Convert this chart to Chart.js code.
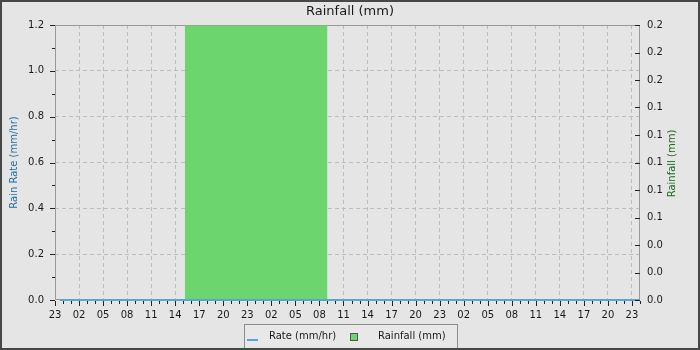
<!DOCTYPE html>
<html><head><meta charset="utf-8">
<script src="https://cdn.jsdelivr.net/npm/chart.js@4/dist/chart.umd.min.js"></script>
<style>html,body{margin:0;padding:0;background:#e5e5e5;}canvas{display:block;}</style>
</head><body>
<canvas id="c" width="700" height="350"></canvas>
<script>
// hours since 23:00 of the first day
const hourLabels = ['23','02','05','08','11','14','17','20','23','02','05','08','11','14','17','20','23','02','05','08','11','14','17','20','23'];
const rateTimes = [0.6, 73];
const rateValues = [0, 0];
const rainTimes = [16.2, 34];
const rainValues = [0.2, 0.2];
const rateTickValues = [0, 0.1, 0.2, 0.3, 0.4, 0.5, 0.6, 0.7, 0.8, 0.9, 1.0, 1.1, 1.2];
const rainTickValues = [0, 0.01, 0.02, 0.03, 0.04, 0.05, 0.06, 0.07, 0.08, 0.09, 0.1, 0.11, 0.12, 0.13, 0.14, 0.15, 0.16, 0.17, 0.18, 0.19, 0.2];

const FONT = 'DejaVu Sans';
const RATE_COLOR = '#55a5d7';
const RAIN_COLOR = '#6dd56d';
const GRID = '#bdbdbd';
const AXIS = '#9a9a9a';
const TEXT = '#1a1a1a';

const isMajorX = v => Math.round(v) % 3 === 0;
const isMajorY = v => Math.round(v * 10) % 2 === 0;
const isMajorY2 = v => Math.round(v * 100) % 2 === 0;

const decor = {
  id: 'decor',
  beforeDraw(chart) {
    const c = chart.ctx;
    c.save();
    c.fillStyle = '#e5e5e5';
    c.fillRect(0, 0, chart.width, chart.height);
    c.restore();
  },
  beforeDatasetsDraw(chart) {
    const c = chart.ctx, a = chart.chartArea;
    c.save();
    c.strokeStyle = AXIS; c.lineWidth = 1;
    c.strokeRect(Math.round(a.left) + 0.5, Math.round(a.top) + 0.5, Math.round(a.right - a.left) - 1, Math.round(a.bottom - a.top) - 1);
    c.restore();
  },
  afterDraw(chart) {
    const c = chart.ctx, a = chart.chartArea;
    const sx = chart.scales.x, sy = chart.scales.y, sy2 = chart.scales.y2;
    c.save();
    // top edge over the fill
    c.strokeStyle = 'rgba(154,154,154,0.6)'; c.lineWidth = 1;
    c.beginPath(); c.moveTo(a.left, Math.round(a.top) + 0.5); c.lineTo(a.right, Math.round(a.top) + 0.5); c.stroke();
    // tick marks
    c.strokeStyle = '#222';
    c.beginPath();
    sx.ticks.forEach(t => {
      const px = Math.round(sx.getPixelForValue(t.value)) + 0.5;
      const len = isMajorX(t.value) ? 5 : 3;
      c.moveTo(px, a.bottom + 1); c.lineTo(px, a.bottom + 1 + len);
    });
    sy.ticks.forEach(t => {
      const py = Math.round(sy.getPixelForValue(t.value)) + 0.5;
      const len = isMajorY(t.value) ? 5 : 3;
      c.moveTo(a.left, py); c.lineTo(a.left - len, py);
    });
    sy2.ticks.forEach(t => {
      const py = Math.round(sy2.getPixelForValue(t.value)) + 0.5;
      const len = isMajorY2(t.value) ? 5 : 3;
      c.moveTo(a.right, py); c.lineTo(a.right - len, py);
    });
    c.stroke();
    // right axis title
    c.save();
    c.translate(672, (a.top + a.bottom) / 2 + 1);
    c.rotate(-Math.PI / 2);
    c.fillStyle = '#1a6a1a';
    c.font = '10px "' + FONT + '"';
    c.textAlign = 'center'; c.textBaseline = 'middle';
    c.fillText(chart.data.datasets[0].label, 0, 0);
    c.restore();
    // legend
    c.fillStyle = '#e8e8e8';
    c.fillRect(244, 324, 214, 30);
    c.strokeStyle = '#8c8c8c';
    c.strokeRect(244.5, 324.5, 213, 30);
    c.strokeStyle = RATE_COLOR; c.lineWidth = 2;
    c.beginPath(); c.moveTo(247, 340); c.lineTo(258, 340); c.stroke();
    c.font = '10px "' + FONT + '"';
    c.fillStyle = TEXT; c.textAlign = 'left'; c.textBaseline = 'middle';
    c.fillText(chart.data.datasets[1].label, 269, 336.5);
    c.fillStyle = RAIN_COLOR;
    c.fillRect(350, 333, 8, 8);
    c.strokeStyle = '#555'; c.lineWidth = 1;
    c.strokeRect(350.5, 333.5, 7, 7);
    c.fillStyle = TEXT;
    c.fillText(chart.data.datasets[0].label, 378, 336.5);
    // outer border
    c.strokeStyle = '#474747'; c.lineWidth = 2;
    c.strokeRect(1, 1, chart.width - 2, chart.height - 2);
    c.restore();
  }
};

new Chart(document.getElementById('c'), {
  type: 'line',
  data: {
    datasets: [
      {
        label: 'Rainfall (mm)',
        yAxisID: 'y2',
        data: rainTimes.map((t, i) => ({ x: t, y: rainValues[i] })),
        borderWidth: 0,
        borderColor: RAIN_COLOR,
        backgroundColor: RAIN_COLOR,
        fill: 'origin',
        pointRadius: 0,
        order: 2
      },
      {
        label: 'Rate (mm/hr)',
        yAxisID: 'y',
        data: rateTimes.map((t, i) => ({ x: t, y: rateValues[i] })),
        borderWidth: 2,
        borderColor: RATE_COLOR,
        backgroundColor: RATE_COLOR,
        fill: false,
        pointRadius: 0,
        clip: 2,
        order: 1
      }
    ]
  },
  options: {
    responsive: false,
    devicePixelRatio: 1,
    animation: false,
    layout: { padding: { top: 0, left: 0, right: 0, bottom: 26 } },
    plugins: {
      legend: { display: false },
      tooltip: { enabled: false },
      title: {
        display: true,
        text: 'Rainfall (mm)',
        color: TEXT,
        font: { family: FONT, size: 13, weight: 'normal' },
        padding: { top: 4, bottom: 5.4 }
      }
    },
    scales: {
      x: {
        type: 'linear',
        min: 0, max: 73,
        afterBuildTicks: s => { const t = []; for (let h = 0; h <= 73; h++) t.push({ value: h }); s.ticks = t; },
        afterFit: s => { s.height = 24; },
        ticks: {
          autoSkip: false, maxRotation: 0, padding: 9,
          color: TEXT, font: { family: FONT, size: 10 },
          callback: v => isMajorX(v) ? hourLabels[Math.round(v) / 3] : ''
        },
        grid: {
          drawTicks: false,
          color: ctx => (ctx.tick && isMajorX(ctx.tick.value) && ctx.tick.value > 0) ? GRID : 'rgba(0,0,0,0)',
          lineWidth: 1
        },
        border: { display: false, dash: [4, 3] }
      },
      y: {
        position: 'left',
        min: 0, max: 1.2,
        afterBuildTicks: s => { s.ticks = rateTickValues.map(v => ({ value: v })); },
        afterFit: s => { s.width = 55; },
        ticks: {
          padding: 11, color: TEXT, font: { family: FONT, size: 10 },
          callback: v => isMajorY(v) ? v.toFixed(1) : ''
        },
        title: {
          display: true, text: 'Rain Rate (mm/hr)', color: '#1f6ea8',
          font: { family: FONT, size: 10 }, padding: { top: 8, bottom: 0 }
        },
        grid: {
          drawTicks: false,
          color: ctx => (ctx.tick && isMajorY(ctx.tick.value) && ctx.tick.value > 0 && ctx.tick.value < 1.2) ? GRID : 'rgba(0,0,0,0)'
        },
        border: { display: false, dash: [4, 3] }
      },
      y2: {
        position: 'right',
        min: 0, max: 0.2,
        afterBuildTicks: s => { s.ticks = rainTickValues.map(v => ({ value: v })); },
        afterFit: s => { s.width = 60; },
        ticks: {
          padding: 7, color: TEXT, font: { family: FONT, size: 10 },
          callback: v => isMajorY2(v) ? v.toFixed(1) : ''
        },
        grid: { display: false, drawTicks: false },
        border: { display: false }
      }
    }
  },
  plugins: [decor]
});
</script>
</body></html>
